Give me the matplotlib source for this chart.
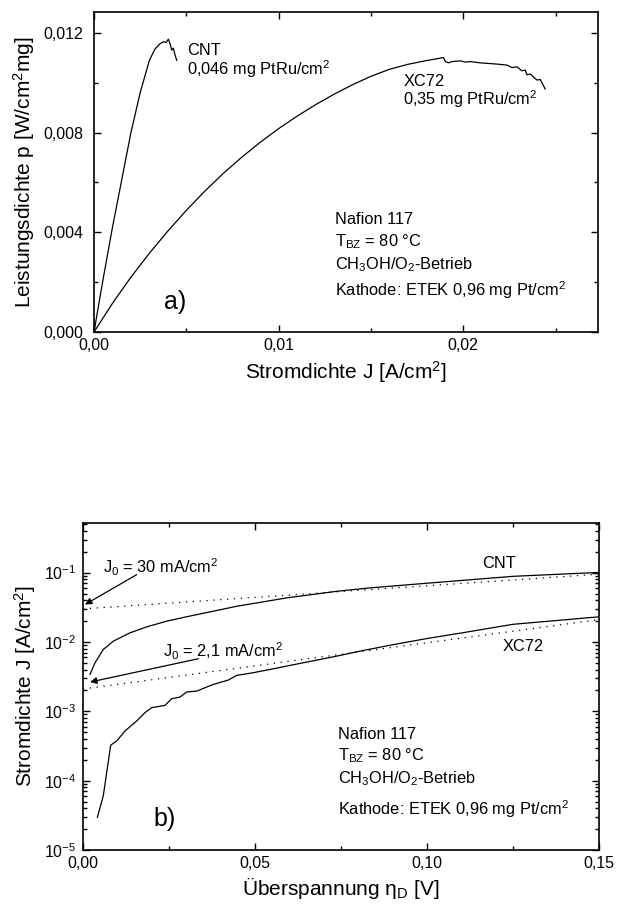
import matplotlib
matplotlib.use("Agg")
import matplotlib.pyplot as plt
from matplotlib.ticker import MultipleLocator, FuncFormatter, LogLocator, NullFormatter

plt.rcParams["font.family"] = ["Liberation Sans", "DejaVu Sans"]
plt.rcParams["mathtext.fontset"] = "custom"
plt.rcParams["mathtext.rm"] = "Liberation Sans"
plt.rcParams["mathtext.it"] = "Liberation Sans:italic"
plt.rcParams["mathtext.bf"] = "Liberation Sans:bold"
plt.rcParams["axes.unicode_minus"] = False

# ---- (a) power density vs. current density ----
cnt_j = [0.0, 0.0005, 0.001, 0.0015, 0.002, 0.0025, 0.003, 0.0033,
         0.003577, 0.003794, 0.003902, 0.004027, 0.004119, 0.004211, 0.004298,
         0.004374, 0.004483]
cnt_p = [0.0, 0.00215, 0.0042, 0.0061, 0.0080, 0.0096, 0.0109, 0.01135,
         0.01157, 0.01165, 0.01161, 0.01175, 0.01157, 0.01131, 0.01139,
         0.01115, 0.0109]

xc_j = [0.0, 0.001, 0.002, 0.003, 0.004, 0.005, 0.006, 0.007, 0.008, 0.009,
        0.010, 0.011, 0.012, 0.013, 0.014, 0.015, 0.016, 0.017, 0.018, 0.01893,
        0.01904, 0.01920, 0.01939, 0.01984, 0.02011, 0.02038, 0.02092, 0.02183,
        0.02237, 0.02264, 0.02291, 0.02318, 0.02336, 0.02345, 0.02363, 0.02399,
        0.02417, 0.02444]
xc_p = [0.0, 0.00115, 0.0022, 0.00316, 0.00405, 0.00488, 0.00565, 0.00636,
        0.00701, 0.00761, 0.00816, 0.00866, 0.00912, 0.00954, 0.00992, 0.01026,
        0.01054, 0.01074, 0.01089, 0.01101,
        0.01085, 0.01080, 0.01085, 0.01088, 0.01083, 0.01085, 0.01080, 0.01075,
        0.01071, 0.01061, 0.01064, 0.01048, 0.01051, 0.01032, 0.01035, 0.01011,
        0.01013, 0.00975]

# ---- (b) Tafel plot: current density vs. overpotential ----
cnt_eta = [0.00203, 0.00349, 0.0059, 0.00881, 0.01366, 0.01851, 0.02432,
           0.03014, 0.03789, 0.04468, 0.05922, 0.07375, 0.08343, 0.10087,
           0.12509, 0.1503]
cnt_logj = [-2.468, -2.30, -2.108, -1.988, -1.868, -1.782, -1.70, -1.636,
            -1.556, -1.485, -1.364, -1.269, -1.220, -1.149, -1.053, -0.996]

xc_eta = [0.00417, 0.0059, 0.00805, 0.00979, 0.01221, 0.01561, 0.01802, 0.01996,
          0.02384, 0.02578, 0.0282, 0.03014, 0.03305, 0.03789, 0.04225, 0.04468,
          0.0495, 0.05436, 0.064, 0.07375, 0.0805, 0.09, 0.10, 0.11, 0.125, 0.15]
xc_logj = [-4.53, -4.218, -3.489, -3.427, -3.283, -3.139, -3.019, -2.947,
           -2.914, -2.818, -2.794, -2.722, -2.708, -2.612, -2.549, -2.482,
           -2.443, -2.396, -2.30, -2.204, -2.132, -2.04, -1.95, -1.87, -1.745,
           -1.637]

# Tafel fit lines, starting at the exchange current density J0
tafel_eta = [0.0, 0.15]
tafel_cnt = [0.030, 0.095]
tafel_xc = [0.0021, 0.021]

W, H = 617, 905
fig = plt.figure(figsize=(W / 100, H / 100), dpi=100)


def box(l, r, t, b):
    return [l / W, 1 - b / H, (r - l) / W, (b - t) / H]


def style(ax, ypad):
    for s in ax.spines.values():
        s.set_linewidth(1.2)
    ax.tick_params(which="both", direction="in", top=True, right=True,
                   labelsize=11.5, width=1.0)
    ax.tick_params(which="major", length=5)
    ax.tick_params(which="minor", length=3)
    ax.tick_params(axis="y", pad=ypad)
    ax.tick_params(axis="x", pad=4)


def comma(fmt):
    return FuncFormatter(lambda v, p: (fmt % v).replace(".", ","))


lw = 0.9
fs = 11.8
lab = 15
arrow = dict(arrowstyle="-|>", color="black", lw=0.9, mutation_scale=10,
             shrinkA=0, shrinkB=0)
info = ["Nafion 117", "T$_{\\mathrm{BZ}}$ = 80 °C", "CH$_3$OH/O$_2$-Betrieb",
        "Kathode: ETEK 0,96 mg Pt/cm$^2$"]

# ----- panel a -----
ax1 = fig.add_axes(box(94, 598, 12, 332))
ax1.plot(cnt_j, cnt_p, color="black", lw=lw)
ax1.plot(xc_j, xc_p, color="black", lw=lw)
ax1.set_xlim(0, 0.0273)
ax1.set_ylim(0, 0.01284)
ax1.xaxis.set_major_locator(MultipleLocator(0.01))
ax1.xaxis.set_minor_locator(MultipleLocator(0.005))
ax1.yaxis.set_major_locator(MultipleLocator(0.004))
ax1.yaxis.set_minor_locator(MultipleLocator(0.002))
ax1.xaxis.set_major_formatter(comma("%.2f"))
ax1.yaxis.set_major_formatter(comma("%.3f"))
style(ax1, 8)
ax1.set_xlabel("Stromdichte J [A/cm$^2$]", fontsize=lab, labelpad=5)
ax1.set_ylabel("Leistungsdichte p [W/cm$^2$mg]", fontsize=lab, labelpad=4)

ax1.text(0.00504, 0.01128, "CNT", fontsize=fs, va="center")
ax1.text(0.00504, 0.01056, "0,046 mg PtRu/cm$^2$", fontsize=fs, va="center")
ax1.text(0.01675, 0.01004, "XC72", fontsize=fs, va="center")
ax1.text(0.01675, 0.00936, "0,35 mg PtRu/cm$^2$", fontsize=fs, va="center")
for txt, yv in zip(info, [0.00452, 0.00361, 0.00272, 0.00168]):
    ax1.text(0.01306, yv, txt, fontsize=fs, va="center")
ax1.text(0.00439, 0.00121, "a)", fontsize=18, va="center", ha="center")

# ----- panel b -----
ax2 = fig.add_axes(box(83, 599, 523, 850))
ax2.set_yscale("log")
ax2.plot(cnt_eta, [10 ** v for v in cnt_logj], color="black", lw=lw)
ax2.plot(xc_eta, [10 ** v for v in xc_logj], color="black", lw=lw)
ax2.plot(tafel_eta, tafel_cnt, color="black", lw=0.9, ls=(0, (1, 4.5)))
ax2.plot(tafel_eta, tafel_xc, color="black", lw=0.9, ls=(0, (1, 4.5)))
ax2.set_xlim(0, 0.15)
ax2.set_ylim(1e-5, 0.52)
ax2.xaxis.set_major_locator(MultipleLocator(0.05))
ax2.xaxis.set_minor_locator(MultipleLocator(0.025))
ax2.xaxis.set_major_formatter(comma("%.2f"))
ax2.yaxis.set_major_locator(LogLocator(base=10, numticks=10))
ax2.yaxis.set_minor_locator(LogLocator(base=10, subs=range(2, 10), numticks=20))
ax2.yaxis.set_minor_formatter(NullFormatter())
style(ax2, 5)
ax2.set_xlabel("Überspannung $\\mathrm{\\eta}_{\\mathrm{D}}$ [V]", fontsize=lab, labelpad=3)
ax2.set_ylabel("Stromdichte J [A/cm$^2$]", fontsize=lab, labelpad=4)

ax2.text(0.0058, 10 ** -0.928, "J$_0$ = 30 mA/cm$^2$", fontsize=fs, va="center")
ax2.annotate("", xy=(0.00058, 10 ** -1.46), xytext=(0.0156, 10 ** -1.029),
             arrowprops=arrow)
ax2.text(0.02326, 10 ** -2.137, "J$_0$ = 2,1 mA/cm$^2$", fontsize=fs, va="center")
ax2.annotate("", xy=(0.00203, 10 ** -2.578), xytext=(0.0335, 10 ** -2.242),
             arrowprops=arrow)
ax2.text(0.1208, 10 ** -0.87, "CNT", fontsize=fs, va="center", ha="center")
ax2.text(0.128, 10 ** -2.069, "XC72", fontsize=fs, va="center", ha="center")
for txt, lv in zip(info, [-3.331, -3.643, -3.978, -4.41]):
    ax2.text(0.0741, 10 ** lv, txt, fontsize=fs, va="center")
ax2.text(0.0238, 10 ** -4.554, "b)", fontsize=18, va="center", ha="center")

fig.savefig("out.png", dpi=100)
